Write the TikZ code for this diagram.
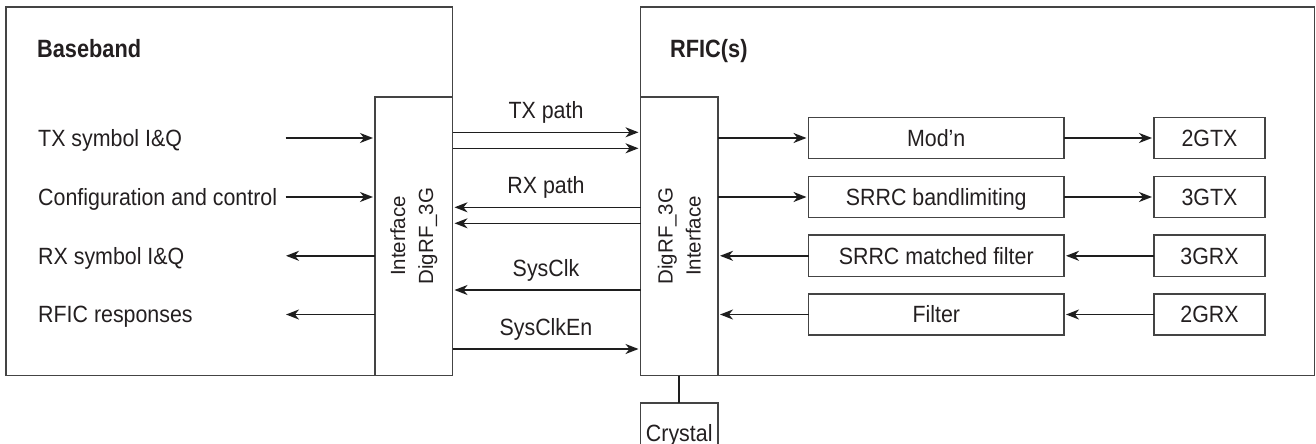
\documentclass[tikz,border=0pt]{standalone}
\usepackage{fontspec}
\setmainfont{Liberation Sans}
\newfontfamily\lblfont{Liberation Sans}[FakeStretch=0.91]
\newfontfamily\ttlfont{Liberation Sans}[FakeStretch=0.87]
\usetikzlibrary{arrows.meta}
\definecolor{boxc}{HTML}{444444}
\definecolor{arrc}{HTML}{1E1E1E}
\definecolor{txtc}{HTML}{231F20}
\begin{document}
\begin{tikzpicture}[x=1pt,y=-1pt,
  box/.style={draw=boxc, line width=1.6pt, inner sep=0pt, outer sep=0pt},
  lbl/.style={font=\lblfont\fontsize{23.5}{26}\selectfont, text=txtc, inner sep=0pt, text height=16.8pt, text depth=0pt},
  blk/.style={box, lbl, minimum height=41.3pt},
  ttl/.style={font=\ttlfont\bfseries\fontsize{25}{28}\selectfont, text=txtc, inner sep=0pt, text height=18pt, text depth=0pt},
  vlbl/.style={font=\fontsize{20.5}{28}\selectfont, rotate=90, align=center, text=txtc, inner sep=0pt},
  arr/.style={draw=arrc, line width=1.6pt, -{Stealth[length=13pt,width=10pt,inset=4pt]}, shorten >=2pt},
  wire/.style={draw=arrc, line width=1.6pt}]
\useasboundingbox (0,0) rectangle (1316,444);
\clip (0,0) rectangle (1316,444);

% outer blocks
\node[box, minimum width=446.5pt, minimum height=368.2pt] (bb) at (229.25,191.4) {};
\node[box, minimum width=674pt, minimum height=368.2pt] (rf) at (977.5,191.4) {};
\node[ttl, anchor=west] (bbt) at (37,48.3) {Baseband};
\node[ttl, anchor=west] (rft) at (670,48.3) {RFIC(s)};

% interface blocks
\node[box, fill=white, minimum width=77.5pt, minimum height=278.8pt] (ifL) at (413.75,236.1) {};
\node[box, fill=white, minimum width=77.5pt, minimum height=278.8pt] (ifR) at (679.25,236.1) {};
\node[vlbl] (ifLt) at (ifL.center) {Interface\\DigRF\_3G};
\node[vlbl] (ifRt) at (ifR.center) {DigRF\_3G\\Interface};

% baseband side labels
\node[lbl, anchor=west] (l1) at (38,138) {TX symbol I\&Q};
\node[lbl, anchor=west] (l2) at (38,197) {Configuration and control};
\node[lbl, anchor=west] (l3) at (38,255.8) {RX symbol I\&Q};
\node[lbl, anchor=west] (l4) at (38,314.5) {RFIC responses};
\coordinate (a1) at (285.5,138);
\coordinate (a2) at (285.5,197);
\coordinate (a3) at (284,255.8);
\coordinate (a4) at (284,314.5);
\draw[arr] (a1) -- (a1 -| ifL.west);
\draw[arr] (a2) -- (a2 -| ifL.west);
\draw[arr] (a3 -| ifL.west) -- (a3);
\draw[arr] (a4 -| ifL.west) -- (a4);

% links between interfaces
\node[lbl] (txp) at (546,110) {TX path};
\node[lbl] (rxp) at (546,185.3) {RX path};
\node[lbl] (sck) at (546,268) {SysClk};
\node[lbl] (scke) at (546,327) {SysClkEn};
\draw[arr] (ifL.east |- 0,132.3) -- (ifR.west |- 0,132.3);
\draw[arr] (ifL.east |- 0,148.3) -- (ifR.west |- 0,148.3);
\draw[arr] (ifR.west |- 0,207.3) -- (ifL.east |- 0,207.3);
\draw[arr] (ifR.west |- 0,223.3) -- (ifL.east |- 0,223.3);
\draw[arr] (ifR.west |- 0,290) -- (ifL.east |- 0,290);
\draw[arr] (ifL.east |- 0,349) -- (ifR.west |- 0,349);

% RFIC internal blocks
\node[blk, minimum width=255.5pt] (m1) at (936.25,138) {Mod’n};
\node[blk, minimum width=255.5pt] (m2) at (936.25,197) {SRRC bandlimiting};
\node[blk, minimum width=255.5pt] (m3) at (936.25,255.8) {SRRC matched filter};
\node[blk, minimum width=255.5pt] (m4) at (936.25,314.5) {Filter};
\node[blk, minimum width=111pt] (t1) at (1209.5,138) {2GTX};
\node[blk, minimum width=111pt] (t2) at (1209.5,197) {3GTX};
\node[blk, minimum width=111pt] (t3) at (1209.5,255.8) {3GRX};
\node[blk, minimum width=111pt] (t4) at (1209.5,314.5) {2GRX};
\draw[arr] (ifR.east |- m1) -- (m1.west);
\draw[arr] (ifR.east |- m2) -- (m2.west);
\draw[arr] (m3.west) -- (ifR.east |- m3);
\draw[arr] (m4.west) -- (ifR.east |- m4);
\draw[arr] (m1.east) -- (t1.west);
\draw[arr] (m2.east) -- (t2.west);
\draw[arr] (t3.west) -- (m3.east);
\draw[arr] (t4.west) -- (m4.east);

% crystal
\node[box, lbl, minimum width=77.5pt, minimum height=60pt] (crys) at (679.25,432.7) {Crystal};
\draw[wire] (ifR.south) -- (crys.north);
\end{tikzpicture}
\end{document}
